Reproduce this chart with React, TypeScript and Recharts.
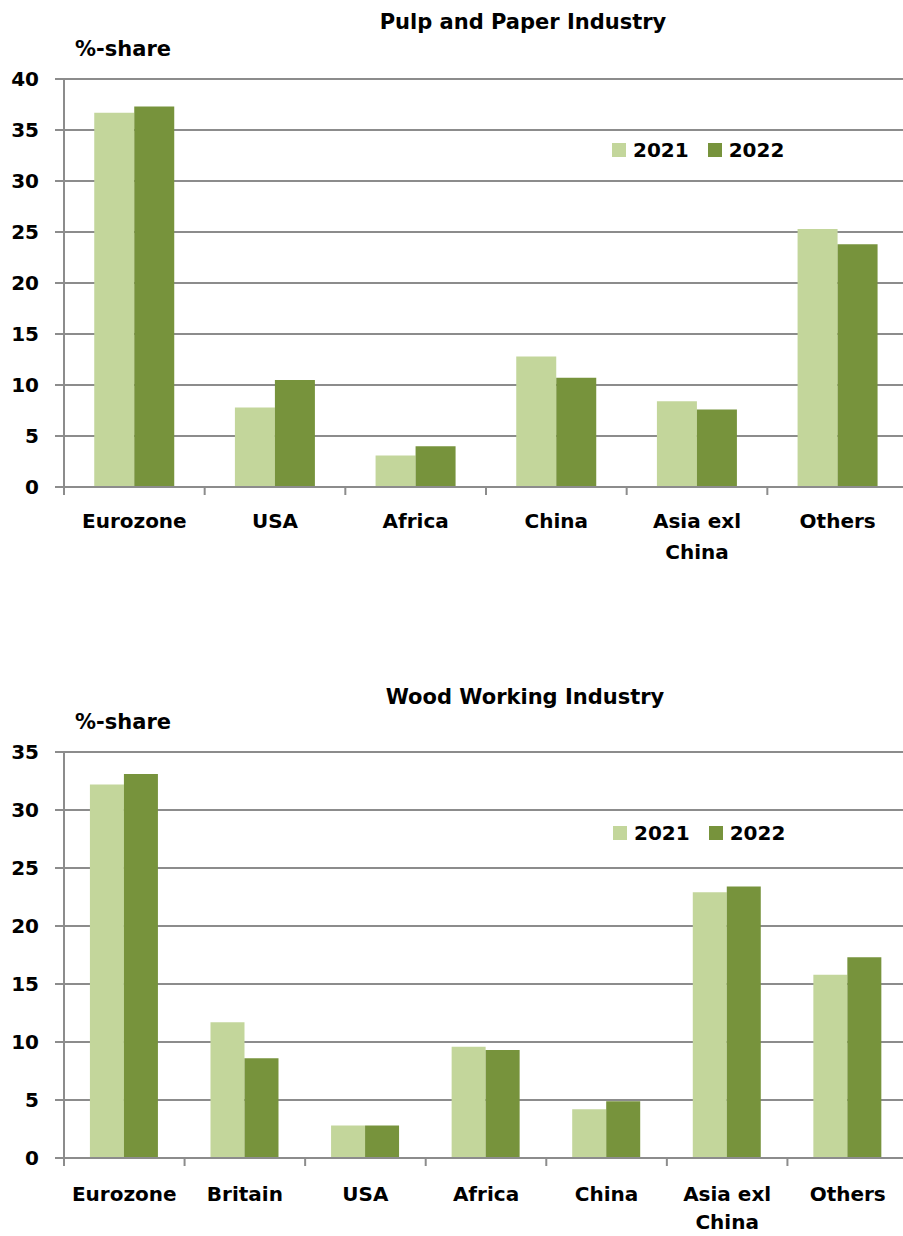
import React from "react";
import { BarChart, Bar, XAxis, YAxis, CartesianGrid, Legend } from "recharts";

const pulpCategories = ["Eurozone", "USA", "Africa", "China", "Asia exl\nChina", "Others"];
const pulp2021 = [36.7, 7.8, 3.1, 12.8, 8.4, 25.3];
const pulp2022 = [37.3, 10.5, 4.0, 10.7, 7.6, 23.8];
const pulpTicks = [0, 5, 10, 15, 20, 25, 30, 35, 40];

const woodCategories = ["Eurozone", "Britain", "USA", "Africa", "China", "Asia exl\nChina", "Others"];
const wood2021 = [32.2, 11.7, 2.8, 9.6, 4.2, 22.9, 15.8];
const wood2022 = [33.1, 8.6, 2.8, 9.3, 4.9, 23.4, 17.3];
const woodTicks = [0, 5, 10, 15, 20, 25, 30, 35];

const seriesNames = ["2021", "2022"];

const LIGHT = "#C3D69B";
const DARK = "#77933C";
const GRID = "#8C8C8C";
const FONT = "'DejaVu Sans', sans-serif";

const CHART_W = 910;
const AXIS_W = 64;
const RIGHT = 2;

const toRows = (cats: string[], a: number[], b: number[]) =>
  cats.map((name, i) => ({ name, y2021: a[i], y2022: b[i] }));

// category label, possibly on two lines, plus a tick mark at the left band edge
const CategoryTick = (props: any) => {
  const { x, y, payload, band, labelY, lineGap } = props;
  const lines = String(payload.value).split("\n");
  const edge = x - band / 2;
  return (
    <g>
      <line x1={edge} x2={edge} y1={y} y2={y + 8} stroke={GRID} strokeWidth={2} />
      <text x={x} y={y + labelY} textAnchor="middle" fontFamily={FONT} fontWeight="bold" fontSize={20} fill="#000">
        {lines.map((l, i) => (
          <tspan key={i} x={x} dy={i === 0 ? 0 : lineGap}>
            {l}
          </tspan>
        ))}
      </text>
    </g>
  );
};

const YearLegend = () => (
  <div style={{ display: "flex", alignItems: "center", fontFamily: FONT, fontWeight: "bold", fontSize: 20 }}>
    {seriesNames.map((s, i) => (
      <div key={s} style={{ display: "flex", alignItems: "center", marginRight: i === 0 ? 19 : 0 }}>
        <span style={{ width: 14, height: 14, background: i === 0 ? LIGHT : DARK, marginRight: 7 }} />
        <span style={{ lineHeight: "24px", color: "#000" }}>{s}</span>
      </div>
    ))}
  </div>
);

type PanelProps = {
  top: number;
  height: number;
  margin: { top: number; bottom: number };
  cats: string[];
  a: number[];
  b: number[];
  ticks: number[];
  labelY: number;
  lineGap: number;
  legendLeft: number;
  legendTop: number;
};

function Panel({ top, height, margin, cats, a, b, ticks, labelY, lineGap, legendLeft, legendTop }: PanelProps) {
  const band = (CHART_W - AXIS_W - RIGHT) / cats.length;
  return (
    <div style={{ position: "absolute", left: 0, top }}>
      <BarChart
        width={CHART_W}
        height={height}
        data={toRows(cats, a, b)}
        margin={{ top: margin.top, right: RIGHT, bottom: margin.bottom, left: 0 }}
        barCategoryGap="21.5%"
        barGap={0}
      >
        <CartesianGrid vertical={false} stroke={GRID} strokeWidth={2} />
        <XAxis
          dataKey="name"
          height={40}
          interval={0}
          tickSize={0}
          tickMargin={0}
          axisLine={{ stroke: GRID, strokeWidth: 2 }}
          tickLine={false}
          tick={<CategoryTick band={band} labelY={labelY} lineGap={lineGap} />}
        />
        <YAxis
          width={AXIS_W}
          domain={[ticks[0], ticks[ticks.length - 1]]}
          ticks={ticks}
          interval={0}
          tickSize={9}
          tickMargin={16}
          axisLine={{ stroke: GRID, strokeWidth: 2 }}
          tickLine={{ stroke: GRID, strokeWidth: 2 }}
          tick={{ fill: "#000", fontFamily: FONT, fontWeight: "bold", fontSize: 20 }}
        />
        <Legend
          layout="horizontal"
          verticalAlign="middle"
          align="center"
          content={<YearLegend />}
          wrapperStyle={{ position: "absolute", left: legendLeft, top: legendTop, width: "auto" }}
        />
        <Bar dataKey="y2021" name="2021" fill={LIGHT} isAnimationActive={false} />
        <Bar dataKey="y2022" name="2022" fill={DARK} isAnimationActive={false} />
      </BarChart>
    </div>
  );
}

const titleStyle: React.CSSProperties = {
  position: "absolute",
  fontFamily: FONT,
  fontWeight: "bold",
  fontSize: 21,
  lineHeight: "24px",
  color: "#000",
  whiteSpace: "nowrap",
};

export default function App() {
  return (
    <div style={{ position: "absolute", left: 0, top: 0, width: 903, height: 1236, overflow: "hidden", background: "#fff" }}>
      <div style={{ ...titleStyle, left: 323, width: 400, textAlign: "center", top: 10 }}>Pulp and Paper Industry</div>
      <div style={{ ...titleStyle, left: 75, top: 37 }}>%-share</div>
      <Panel
        top={0}
        height={600}
        margin={{ top: 79, bottom: 73 }}
        cats={pulpCategories}
        a={pulp2021}
        b={pulp2022}
        ticks={pulpTicks}
        labelY={41}
        lineGap={31}
        legendLeft={612}
        legendTop={138}
      />

      <div style={{ ...titleStyle, left: 325, width: 400, textAlign: "center", top: 685 }}>Wood Working Industry</div>
      <div style={{ ...titleStyle, left: 75, top: 710 }}>%-share</div>
      <Panel
        top={640}
        height={596}
        margin={{ top: 112, bottom: 38 }}
        cats={woodCategories}
        a={wood2021}
        b={wood2022}
        ticks={woodTicks}
        labelY={43}
        lineGap={28}
        legendLeft={613}
        legendTop={181}
      />
    </div>
  );
}
